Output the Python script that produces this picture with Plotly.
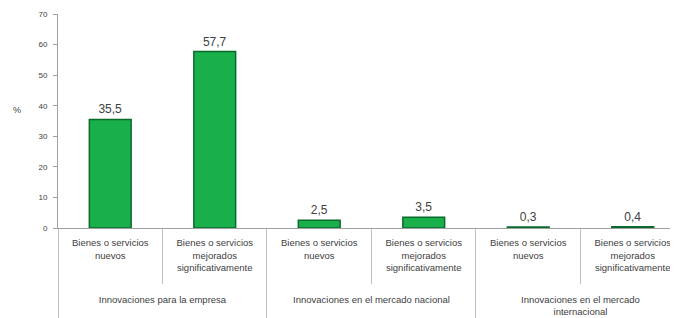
import plotly.graph_objects as go

groups = ["Innovaciones para la empresa", "Innovaciones para la empresa",
          "Innovaciones en el mercado nacional", "Innovaciones en el mercado nacional",
          "Innovaciones en el mercado<br>internacional", "Innovaciones en el mercado<br>internacional"]
categories = ["Bienes o servicios<br>nuevos<br> <br> <br> ", "Bienes o servicios<br>mejorados<br>significativamente<br> <br> ",
              "Bienes o servicios<br>nuevos<br> <br> <br>  ", "Bienes o servicios<br>mejorados<br>significativamente<br> <br>  ",
              "Bienes o servicios<br>nuevos<br> <br> <br>   ", "Bienes o servicios<br>mejorados<br>significativamente<br> <br>   "]
values = [35.5, 57.7, 2.5, 3.5, 0.3, 0.4]
value_labels = ["35,5", "57,7", "2,5", "3,5", "0,3", "0,4"]

fig = go.Figure(go.Bar(
    x=[groups, categories], y=values,
    text=value_labels, textposition="outside", cliponaxis=False,
    textfont=dict(size=12, color="#404040", family="Liberation Sans"),
    marker=dict(color="#19b04b", line=dict(color="#0a6a2b", width=1.5)),
))
fig.update_layout(
    width=678, height=318, margin=dict(l=50, r=0, t=6, b=98),
    paper_bgcolor="white", plot_bgcolor="white", showlegend=False,
    bargap=0.6, font=dict(family="Liberation Sans", size=9, color="#404040"),
    separators=",.",
)
fig.update_yaxes(range=[0, 70], dtick=10, showgrid=False, showline=True, automargin=False,
                 linecolor="#a0a0a0", ticks="outside", ticklen=4, tickcolor="#a0a0a0",
                 ticklabelstandoff=4, tickfont=dict(size=8, color="#404040"))
fig.update_xaxes(range=[-0.5, 5.51], showline=True, linecolor="#a0a0a0", automargin=False,
                 ticks="outside", tickson="boundaries", ticklen=55, tickcolor="#c0c0c0",
                 showdividers=True, dividercolor="#c0c0c0", dividerwidth=1,
                 ticklabelstandoff=6, tickfont=dict(size=9.5, color="#404040"))
fig.add_annotation(text="%", xref="paper", yref="paper", x=-0.065, y=0.55,
                   xanchor="center", showarrow=False, font=dict(size=9, color="#404040"))
fig.write_html("out.html")
